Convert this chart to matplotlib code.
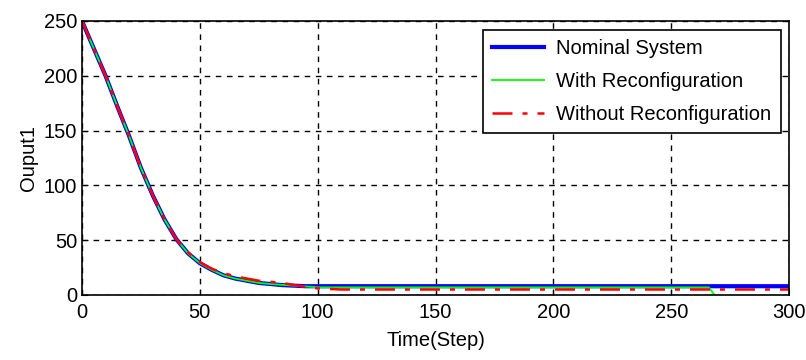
import matplotlib
matplotlib.use("Agg")
import matplotlib.pyplot as plt

plt.rcParams['font.family'] = ['Liberation Sans', 'DejaVu Sans']

# sampled readings from the chart
t_nom = [0, 5, 10, 15, 20, 25, 30, 35, 40, 45, 50, 55, 60, 65, 70, 75, 80, 85, 90, 95, 100, 300]
y_nom = [250, 225, 200, 172, 145, 116, 91, 69, 51, 38, 29, 23, 18, 15, 13, 11, 10, 9, 8.5, 8, 8, 8]

t_rec = [0, 5, 10, 15, 20, 25, 30, 35, 40, 45, 50, 55, 60, 65, 70, 75, 80, 90, 100, 266, 268, 270]
y_rec = [250, 225, 200, 172, 145, 116, 91, 69, 51, 38, 29, 23, 18, 15, 13, 11, 10, 8.5, 7, 7, 1, -3]

t_wo = [0, 5, 10, 15, 20, 25, 30, 35, 40, 45, 50, 55, 60, 65, 70, 75, 80, 85, 90, 100, 110, 300]
y_wo = [250, 225, 200, 172, 145, 116, 91, 69, 51, 39, 30, 24, 20, 17, 15, 13, 12, 11, 9, 6, 5, 5]

fig = plt.figure(figsize=(8.06, 3.6), dpi=100)
ax = fig.add_axes([0.1017, 0.1806, 0.8773, 0.7611])

ax.plot(t_nom, y_nom, color='#0000ff', lw=3, label='Nominal System')
ax.plot(t_rec, y_rec, color='#00ff00', lw=1.3, label='With Reconfiguration')
ax.plot(t_wo, y_wo, color='#ff0000', lw=1.8, ls=(0, (8, 4, 2, 4)), label='Without Reconfiguration')

ax.set_xlim(0, 300)
ax.set_ylim(0, 250)
ax.set_xticks([0, 50, 100, 150, 200, 250, 300])
ax.set_yticks([0, 50, 100, 150, 200, 250])
ax.tick_params(direction='in', labelsize=14.5, length=4)
ax.tick_params(axis='x', pad=6)
ax.grid(True, color='black', ls=(0, (4, 4)), lw=1)
for s in ax.spines.values():
    s.set_linewidth(1.2)

ax.set_xlabel('Time(Step)', fontsize=14.5, labelpad=6)
ax.set_ylabel('Ouput1', fontsize=14.5, labelpad=4)

leg = ax.legend(loc='upper right', bbox_to_anchor=(0.988, 0.968), fontsize=14.5, fancybox=False,
                edgecolor='black', framealpha=1, handlelength=2.6, handletextpad=0.6,
                borderpad=0.45, labelspacing=0.7, borderaxespad=0)
leg.get_frame().set_linewidth(1.2)

fig.savefig('out.png', dpi=100)
